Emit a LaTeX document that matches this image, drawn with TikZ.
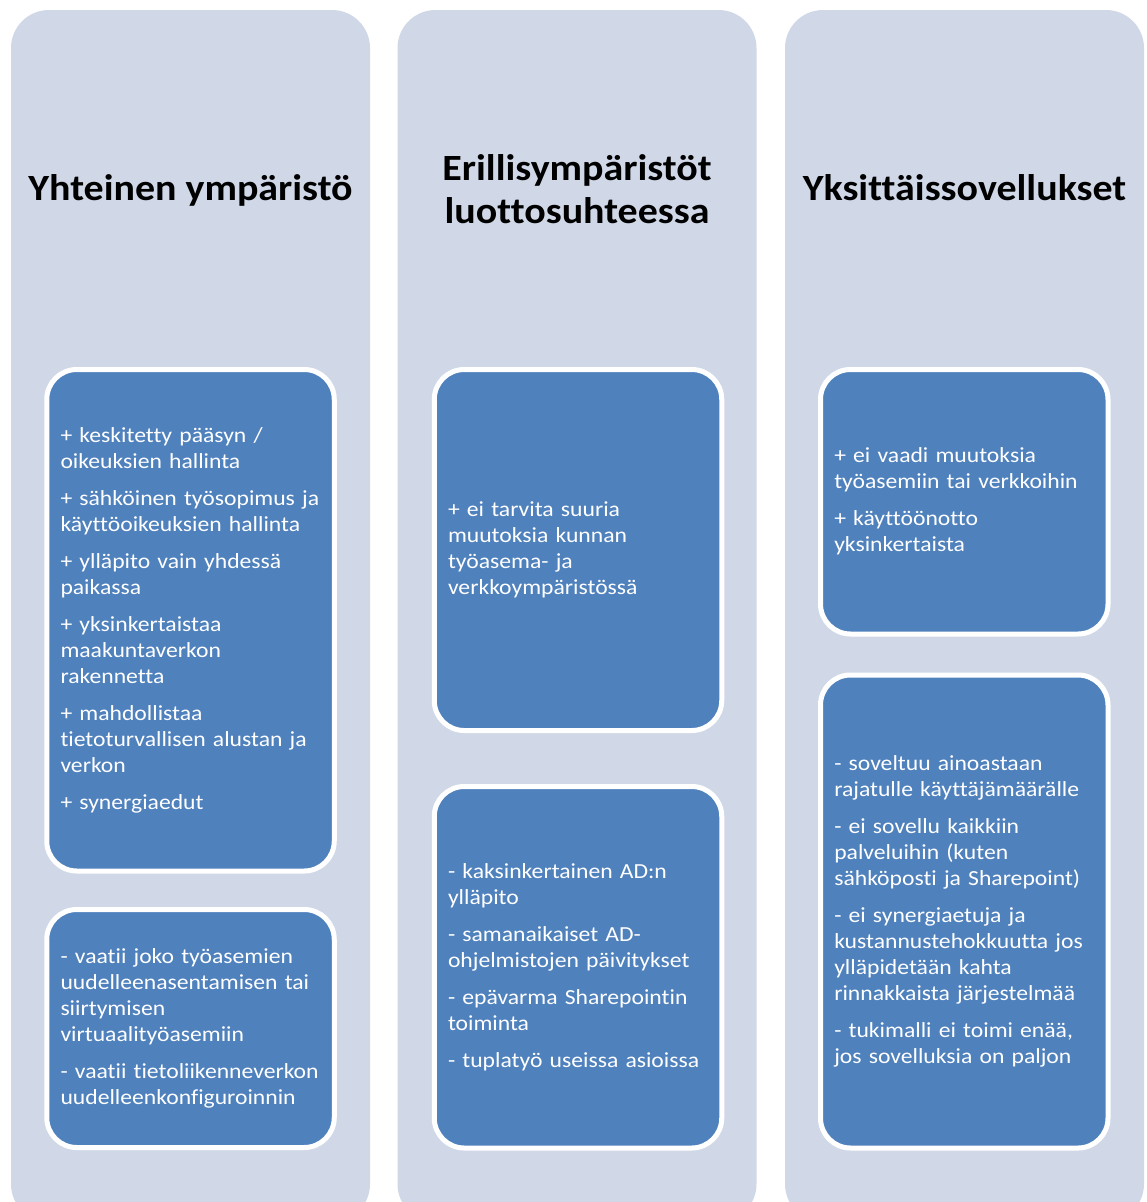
\documentclass[tikz,border=0pt]{standalone}
\usepackage{fontspec}
\setmainfont{Carlito}[Ligatures=NoCommon]
\newfontfamily\bodyfont{Carlito}[Ligatures=NoCommon, FakeStretch=1.1]
\newfontfamily\titlefont{Carlito}[Ligatures=NoCommon, FakeStretch=1.08]
\definecolor{colbg}{HTML}{D0D8E8}
\definecolor{boxblue}{HTML}{4F81BD}
\begin{document}
\begin{tikzpicture}[x=1pt,y=-1pt,
  column/.style={fill=colbg, draw=none, rounded corners=38pt, minimum width=359pt, minimum height=1212pt, inner sep=0pt},
  coltitle/.style={font=\titlefont\fontsize{37}{43}\selectfont\bfseries, align=center, inner sep=0pt, text=black},
  infobox/.style={draw=white, line width=5pt, fill=boxblue, rounded corners=30pt, text=white,
    align=left, inner xsep=13.5pt, inner ysep=0pt, text width=260pt, minimum width=287.5pt,
    font=\bodyfont\fontsize{21.5}{26}\selectfont}]
\useasboundingbox (0,0) rectangle (1146,1202);
\clip (0,0) rectangle (1146,1202);
\fill[white] (0,0) rectangle (1146,1202);
% columns
\node[column] (colA) at (190.5,616) {};
\node[column] (colB) at (577,616) {};
\node[column] (colC) at (964.5,616) {};
% titles
\node[coltitle, anchor=base] (tA) at (190.5,200) {Yhteinen ympäristö};
\node[coltitle, anchor=center] (tB) at (577,189) {Erillisympäristöt\\luottosuhteessa};
\node[coltitle, anchor=base] (tC) at (964.5,200) {Yksittäissovellukset};
% boxes
\node[infobox, minimum height=501.5pt] (a1) at (190.5,620.25) {%
+ keskitetty pääsyn /\\oikeuksien hallinta\\[11pt]
+ sähköinen työsopimus ja\\käyttöoikeuksien hallinta\\[11pt]
+ ylläpito vain yhdessä\\paikassa\\[11pt]
+ yksinkertaistaa\\maakuntaverkon\\rakennetta\\[11pt]
+ mahdollistaa\\tietoturvallisen alustan ja\\verkon\\[11pt]
+ synergiaedut};
\node[infobox, minimum height=238pt] (a2) at (190.5,1028.5) {%
- vaatii joko työasemien\\uudelleenasentamisen tai\\siirtymisen\\virtuaalityöasemiin\\[11pt]
- vaatii tietoliikenneverkon\\uudelleenkonfiguroinnin};
\node[infobox, minimum height=361pt] (b1) at (578,550) {%
+ ei tarvita suuria\\muutoksia kunnan\\työasema- ja\\verkkoympäristössä};
\node[infobox, minimum height=361.5pt] (b2) at (578,967.25) {%
- kaksinkertainen AD:n\\ylläpito\\[11pt]
- samanaikaiset AD-\\ohjelmistojen päivitykset\\[11pt]
- epävarma Sharepointin\\toiminta\\[11pt]
- tuplatyö useissa asioissa};
\node[infobox, minimum height=264.5pt] (c1) at (964.25,501.75) {%
+ ei vaadi muutoksia\\työasemiin tai verkkoihin\\[11pt]
+ käyttöönotto\\yksinkertaista};
\node[infobox, minimum height=473pt] (c2) at (964.25,911.5) {%
- soveltuu ainoastaan\\rajatulle käyttäjämäärälle\\[11pt]
- ei sovellu kaikkiin\\palveluihin (kuten\\sähköposti ja Sharepoint)\\[11pt]
- ei synergiaetuja ja\\kustannustehokkuutta jos\\ylläpidetään kahta\\rinnakkaista järjestelmää\\[11pt]
- tukimalli ei toimi enää,\\jos sovelluksia on paljon};
\end{tikzpicture}
\end{document}
